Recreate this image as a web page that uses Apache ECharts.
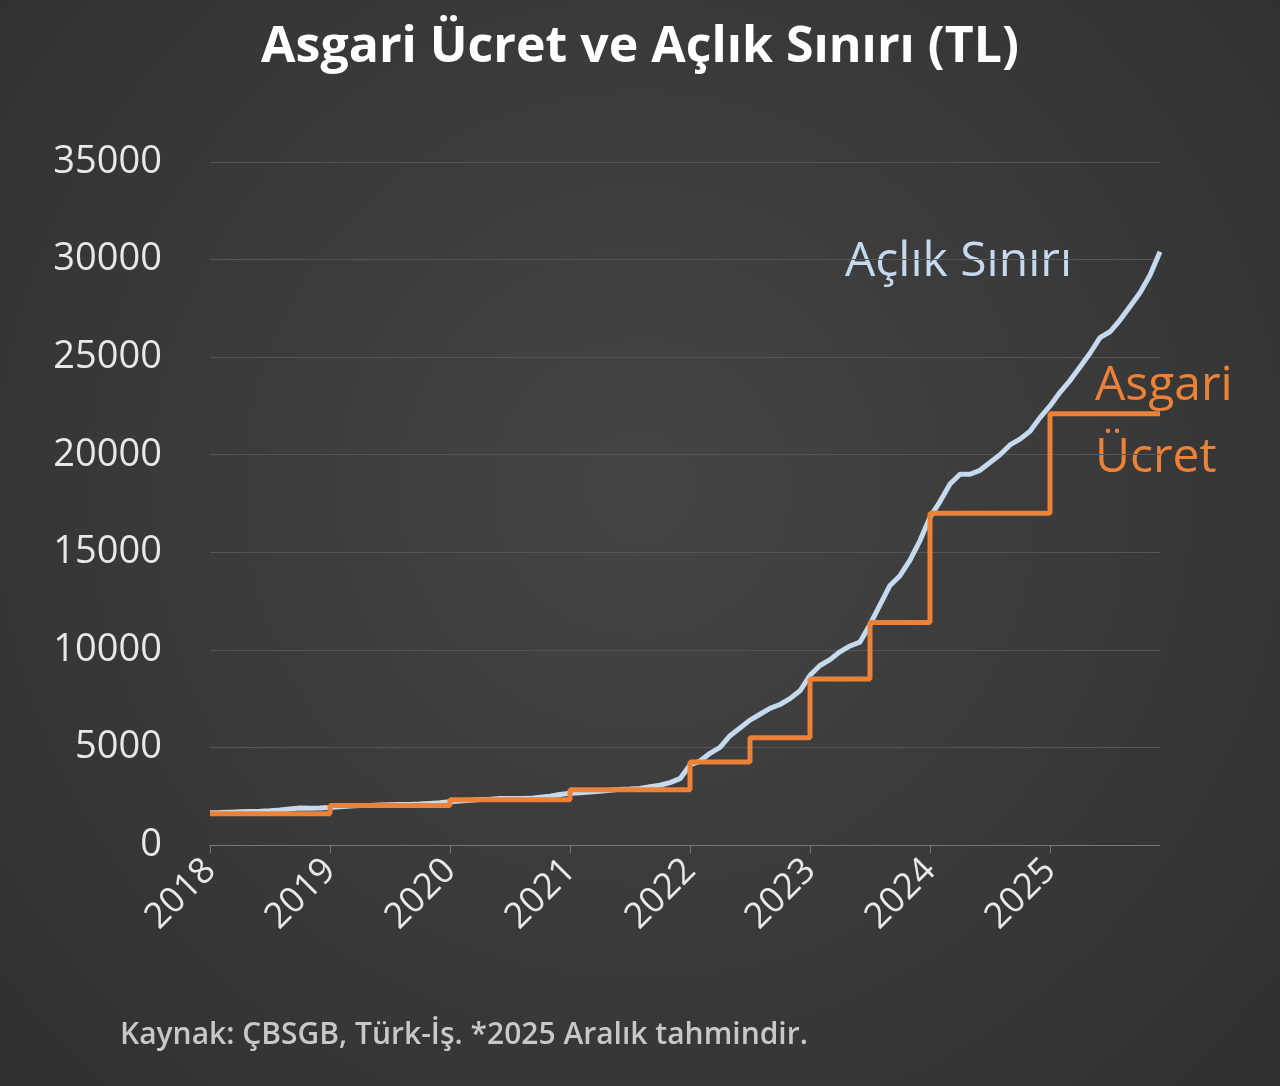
<!DOCTYPE html><html><head><meta charset="utf-8">
<script src="https://cdn.jsdelivr.net/npm/echarts@6/dist/echarts.min.js"></script>
<style>html,body{margin:0;padding:0;background:#3a3a3a}#c{width:1280px;height:1086px}</style></head><body><div id="c"></div>
<script>
const years=[2018,2019,2020,2021,2022,2023,2024,2025];
const months=[];years.forEach(y=>{for(let m=1;m<=12;m++)months.push(y+'-'+String(m).padStart(2,'0'));});
const aclik=[
1650,1660,1680,1700,1720,1730,1750,1790,1850,1900,1880,1890,
1920,1960,2000,2020,2030,2050,2060,2070,2080,2100,2130,2160,
2220,2260,2290,2330,2350,2380,2380,2380,2390,2450,2500,2590,
2650,2680,2720,2760,2800,2850,2870,2900,2990,3060,3200,3400,
4100,4300,4700,5000,5600,6000,6400,6700,7000,7200,7500,7900,
8700,9200,9500,9900,10200,10400,11300,12300,13300,13800,14600,15600,
16800,17600,18500,19000,19000,19200,19600,20000,20500,20800,21200,21900,
22500,23200,23800,24500,25200,26000,26300,26900,27600,28300,29200,30400];
const asgari=[
1603,1603,1603,1603,1603,1603,1603,1603,1603,1603,1603,1603,
2020,2020,2020,2020,2020,2020,2020,2020,2020,2020,2020,2020,
2324,2324,2324,2324,2324,2324,2324,2324,2324,2324,2324,2324,
2826,2826,2826,2826,2826,2826,2826,2826,2826,2826,2826,2826,
4253,4253,4253,4253,4253,4253,5500,5500,5500,5500,5500,5500,
8507,8507,8507,8507,8507,8507,11402,11402,11402,11402,11402,11402,
17002,17002,17002,17002,17002,17002,17002,17002,17002,17002,17002,17002,
22104,22104,22104,22104,22104,22104,22104,22104,22104,22104,22104,22104];
const ch=echarts.init(document.getElementById('c'));
const F='"Open Sans","Noto Sans",sans-serif';
ch.setOption({
backgroundColor:{type:'radial',x:0.5,y:0.45,r:0.8,colorStops:[{offset:0,color:'#454545'},{offset:1,color:'#303030'}]},
title:{text:'Asgari Ücret ve Açlık Sınırı (TL)',left:'center',top:18,textStyle:{color:'#fff',fontSize:50,fontWeight:'bold',fontFamily:F}},
grid:{left:210,right:120,top:162,bottom:241},
xAxis:{type:'category',data:months,boundaryGap:false,
 axisLine:{lineStyle:{color:'#777'}},axisTick:{show:true,interval:i=>i%12===0,length:8,lineStyle:{color:'#777'}},
 axisLabel:{interval:i=>i%12===0,formatter:v=>v.slice(0,4),rotate:45,color:'#e8e8e8',fontSize:36,fontFamily:F,margin:20}},
yAxis:{type:'value',min:0,max:35000,interval:5000,axisLine:{show:false},axisTick:{show:false},
 splitLine:{lineStyle:{color:'#555',width:1}},axisLabel:{formatter:v=>String(v),color:'#e8e8e8',fontSize:38,fontFamily:F,margin:48}},
series:[
{name:'Açlık Sınırı',type:'line',data:aclik,showSymbol:false,lineStyle:{color:'#c5d9ef',width:5}},
{name:'Asgari Ücret',type:'line',data:asgari,step:'end',showSymbol:false,lineStyle:{color:'#eb8238',width:5}}],
graphic:[
{type:'text',left:845,top:238,style:{text:'Açlık Sınırı',fill:'#c5d9ef',fontSize:48,fontFamily:F}},
{type:'text',left:1095,top:350,style:{text:'Asgari\nÜcret',fill:'#eb8238',fontSize:48,fontFamily:F,lineHeight:72}},
{type:'text',left:120,top:1020,style:{text:'Kaynak: ÇBSGB, Türk-İş. *2025 Aralık tahmindir.',fill:'#c8c8c8',fontSize:30,fontWeight:600,fontFamily:F}}]
});
</script></body></html>
